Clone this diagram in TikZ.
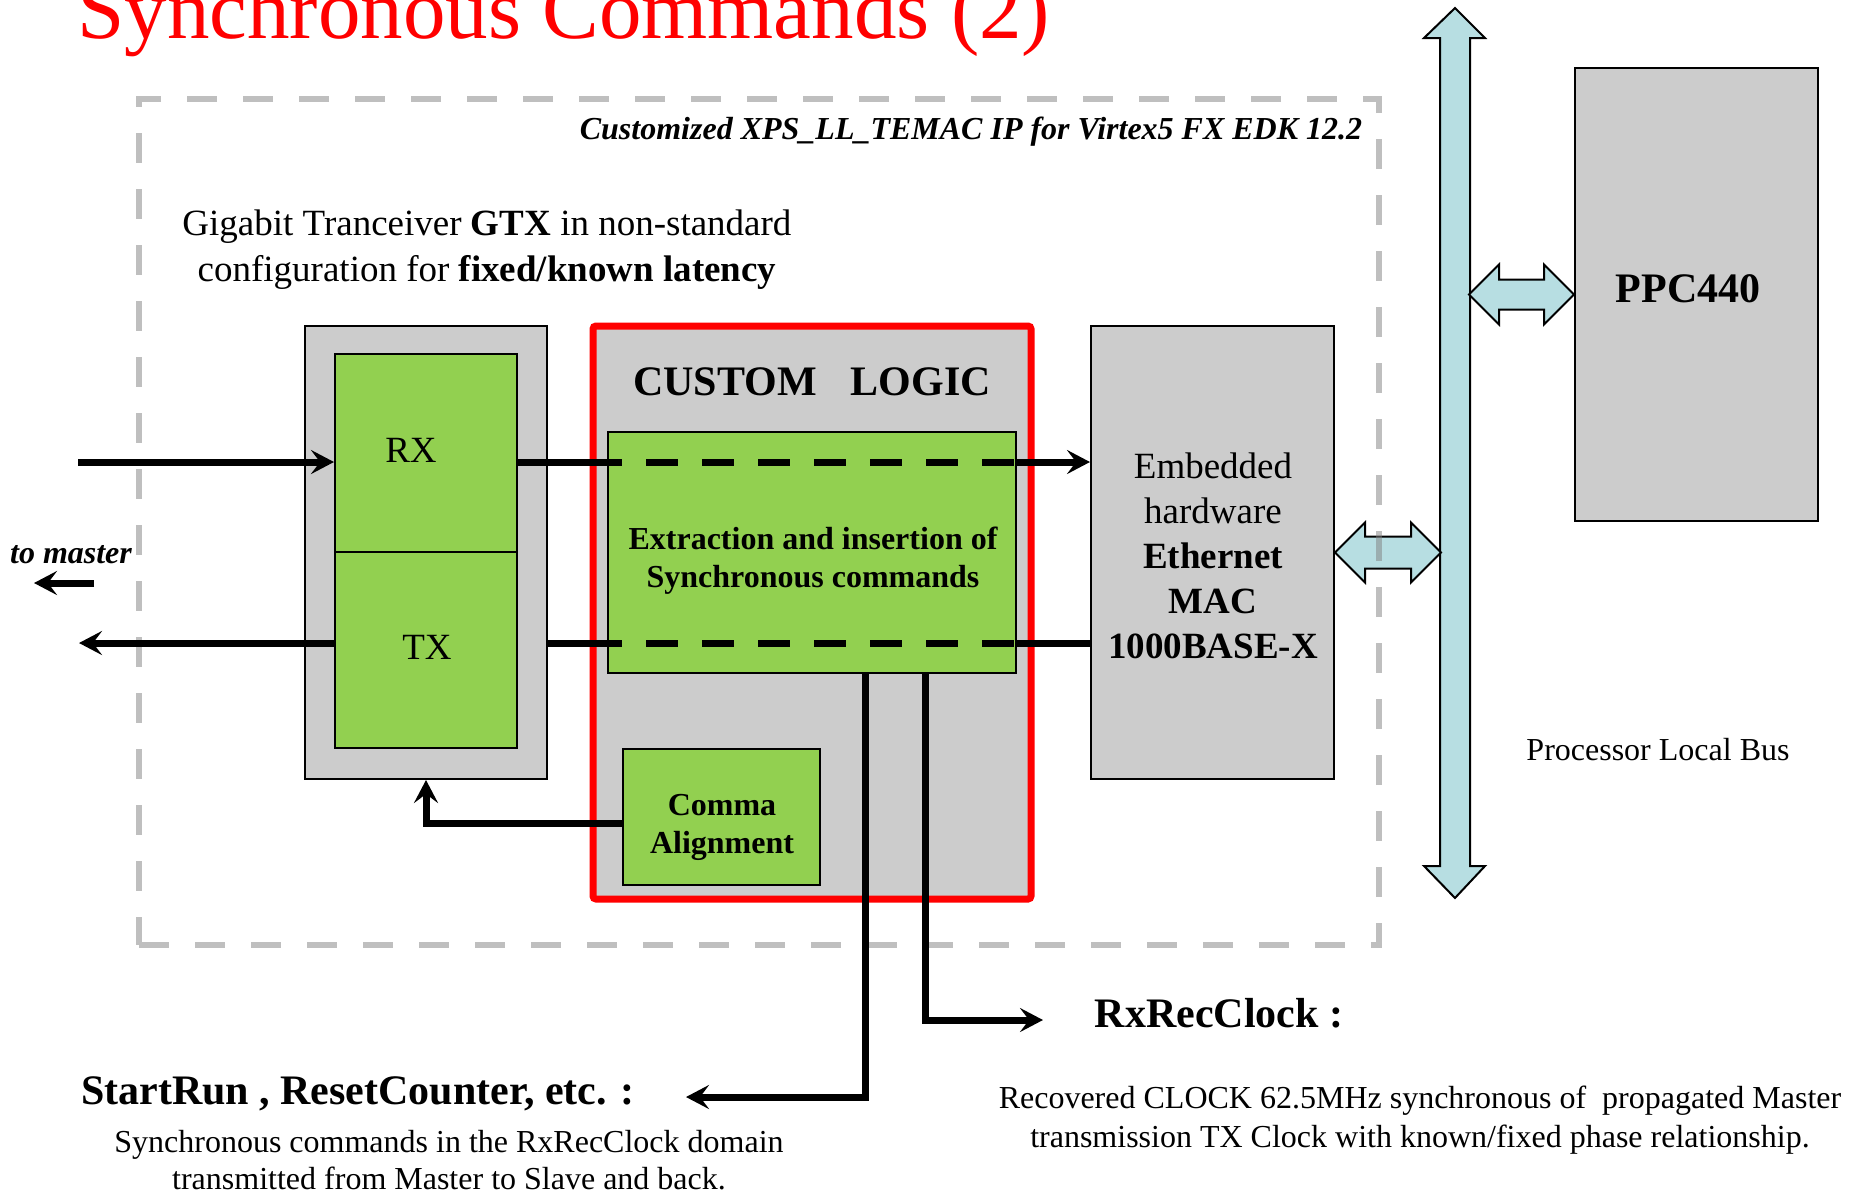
\documentclass[tikz,border=0pt]{standalone}
\usepackage{fontspec}
\setmainfont{Liberation Serif}
\usetikzlibrary{arrows.meta,fit,calc}
\definecolor{boxgray}{HTML}{CCCCCC}
\definecolor{fgreen}{HTML}{92D050}
\definecolor{busblue}{HTML}{B7DEE2}
\definecolor{dashgray}{HTML}{808080}
\begin{document}
\begin{tikzpicture}[x=0.5pt,y=-0.5pt,
  grayblk/.style={draw=black, line width=1pt, fill=boxgray, inner sep=0pt},
  greenblk/.style={draw=black, line width=1pt, fill=fgreen, inner sep=0pt},
  wire/.style={line width=3.5pt, draw=black},
  arr/.style={wire, -{Stealth[length=11.5pt,width=12pt,inset=4.5pt]}},
  blockarrow/.style={draw=black, line width=1pt, fill=busblue, line join=miter},
  txt/.style={inner sep=0pt, align=center, text=black}]

\useasboundingbox (0,0) rectangle (1864,1196);

% title
\node[anchor=base west, inner sep=0pt, text=red, font=\fontsize{42.5}{50}\selectfont] (title) at (77,38) {Synchronous Commands (2)};

% boxes
\node[grayblk, fit={(305,326) (547,779)}] (gtx) {};
\node[greenblk, fit={(335,354) (517,552)}] (rx) {};
\node[greenblk, fit={(335,552) (517,748)}] (tx) {};
\node[txt, font=\fontsize{18.5}{22}\selectfont] (rxl) at (411,450) {RX};
\node[txt, font=\fontsize{18.5}{22}\selectfont] (txl) at (427,647) {TX};

\node[draw=red, line width=3.5pt, fill=boxgray, inner sep=0pt, rounded corners=1.5pt, fit={(593,326) (1031,899)}] (custom) {};
\node[txt, font=\fontsize{21}{25}\selectfont\bfseries] (cltitle) at (812,382) {CUSTOM\hspace{17pt}LOGIC};

\node[grayblk, fit={(1091,326) (1334,779)}] (mac) {};
\node[txt, font=\fontsize{18.5}{22.5}\selectfont] (macl) at (1213,556) {Embedded\\hardware\\\textbf{Ethernet}\\\textbf{MAC}\\\textbf{1000BASE-X}};

\node[grayblk, fit={(1575,68) (1818,521)}] (ppc) {};
\node[txt, font=\fontsize{21}{25}\selectfont\bfseries] (ppcl) at (1688,289) {PPC440};

% processor local bus
\draw[blockarrow] (1455,8) -- (1485,38) -- (1470,38) -- (1470,866) -- (1485,866) -- (1455,898) -- (1424,866) -- (1440,866) -- (1440,38) -- (1424,38) -- cycle;
\coordinate (busW) at (1440,552);
\node[txt, font=\fontsize{16}{19}\selectfont] (busl) at (1658,750) {Processor Local Bus};

% double arrows
\draw[blockarrow] (mac.east) -- ++(30,-30) -- ++(0,14) -- ++(46,0) -- ++(0,-14) -- ++(30,30) -- ++(-30,30) -- ++(0,-14) -- ++(-46,0) -- ++(0,14) -- cycle;
\draw[blockarrow] (ppc.west) -- ++(-30,-30) -- ++(0,15) -- ++(-45,0) -- ++(0,-15) -- ++(-30,30) -- ++(30,30) -- ++(0,-15) -- ++(45,0) -- ++(0,15) -- cycle;

% dashed IP boundary
\node[fit={(139,99) (1379,945)}, inner sep=0pt, draw=dashgray, draw opacity=0.5, line width=3.4pt, dash pattern=on 15pt off 13pt] (ipbox) {};
\node[txt, font=\fontsize{16}{18}\selectfont\bfseries\itshape] (ipname) at (971,132) {Customized XPS\_LL\_TEMAC IP for Virtex5 FX EDK 12.2};
\node[txt, font=\fontsize{18.5}{23}\selectfont] (gtxlabel) at (487,250) {Gigabit Tranceiver \textbf{GTX} in non-standard\\configuration for \textbf{fixed/known latency}};

% wires
\coordinate (rxin) at (78,462);
\coordinate (txout) at (79,643);
\draw[arr] (rxin) -- (rxin -| rx.west);
\draw[arr] (rx.east |- rxin) -- (mac.west |- rxin);
\draw[arr] (tx.west |- txout) -- (txout);
\draw[wire] (mac.west |- txout) -- (gtx.east |- txout);

\node[greenblk, fit={(608,432) (1016,673)}] (ext) {};
\node[txt, font=\fontsize{16}{19}\selectfont\bfseries] (extl) at (813,561) {Extraction and insertion of\\Synchronous commands};
\draw[wire, dash pattern=on 16pt off 12pt, dash phase=8.5pt] (ext.west |- rxin) -- (ext.east |- rxin);
\draw[wire, dash pattern=on 16pt off 12pt, dash phase=8.5pt] (ext.west |- txout) -- (ext.east |- txout);

\node[greenblk, fit={(623,749) (820,885)}] (comma) {};
\node[txt, font=\fontsize{16}{19}\selectfont\bfseries] (commal) at (722,827) {Comma\\Alignment};

\coordinate (c3) at (426,823);
\draw[arr] (comma.west |- c3) -- (c3) -- (gtx.south -| c3);

\coordinate (c1) at (865,1097);
\coordinate (srtip) at (686,1097);
\draw[arr] (ext.south -| c1) -- (c1) -- (srtip);
\coordinate (c2) at (925,1020);
\coordinate (rctip) at (1043,1020);
\draw[arr] (ext.south -| c2) -- (c2) -- (rctip);

% to master
\node[txt, font=\fontsize{16}{19}\selectfont\bfseries\itshape] (tomaster) at (71,555) {to master};
\coordinate (tm1) at (94,583);
\coordinate (tm2) at (34,583);
\draw[arr] (tm1) -- (tm2);

% bottom texts
\node[txt, font=\fontsize{21}{25}\selectfont\bfseries] (rrc) at (1219,1013) {RxRecClock :};
\node[txt, font=\fontsize{16}{19.5}\selectfont] (rrcd) at (1420,1120) {Recovered CLOCK 62.5MHz synchronous of\ \ propagated Master\\transmission TX Clock with known/fixed phase relationship.};
\node[txt, font=\fontsize{21}{25}\selectfont\bfseries] (srun) at (358,1094) {StartRun , ResetCounter, etc. :};
\node[txt, font=\fontsize{16}{18.6}\selectfont] (srund) at (449,1160) {Synchronous commands in the RxRecClock domain\\transmitted from Master to Slave and back.};
\end{tikzpicture}
\end{document}
